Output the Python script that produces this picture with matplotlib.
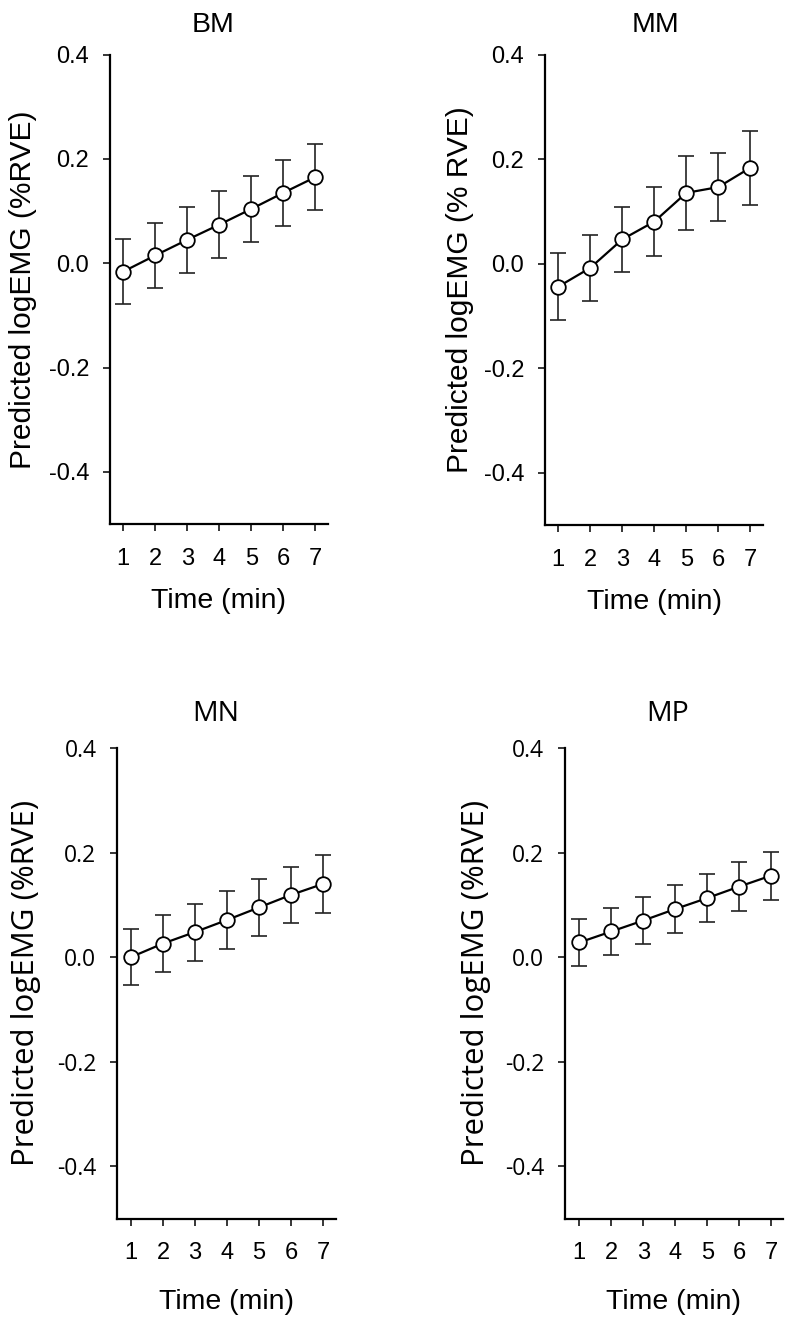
import matplotlib
matplotlib.use("Agg")
import matplotlib.pyplot as plt

time_min = [1, 2, 3, 4, 5, 6, 7]
yticks = [-0.4, -0.2, 0.0, 0.2, 0.4]
ytick_labels = ["-0.4", "-0.2", "0.0", "0.2", "0.4"]

bm_mean = [-0.016, 0.015, 0.045, 0.074, 0.104, 0.135, 0.165]
bm_err = [0.063, 0.063, 0.063, 0.064, 0.063, 0.063, 0.063]

mm_mean = [-0.044, -0.008, 0.0465, 0.0805, 0.1355, 0.1465, 0.1835]
mm_err = [0.064, 0.063, 0.0625, 0.0655, 0.0705, 0.0655, 0.0705]

mn_mean = [0.000, 0.026, 0.048, 0.071, 0.095, 0.119, 0.140]
mn_err = [0.054, 0.0545, 0.0545, 0.055, 0.0545, 0.054, 0.0555]

mp_mean = [0.028, 0.049, 0.070, 0.092, 0.113, 0.135, 0.156]
mp_err = [0.045, 0.045, 0.0445, 0.045, 0.0455, 0.046, 0.046]

titles = ["BM", "MM", "MN", "MP"]
ylabels = ["Predicted logEMG (%RVE)", "Predicted logEMG (% RVE)",
           "Predicted logEMG (%RVE)", "Predicted logEMG (%RVE)"]
xlabel = "Time (min)"

W, H = 786, 1319
fig = plt.figure(figsize=(W / 100, H / 100), dpi=100)

# layout in pixels: left, x=1 pixel, right, top(0.4), bottom(-0.5)
layout = [
    dict(left=110, x1=123.3, right=328, top=54.6, bottom=524,
         font="Liberation Sans", tfont="Liberation Sans", title_x=0.472,
         ylab_px=37, tick_font="Liberation Sans", ytsize=17, ylsize=21.5),
    dict(left=545, x1=558.3, right=763.3, top=54.6, bottom=525,
         font="Liberation Sans", tfont="Liberation Sans", title_x=0.505,
         ylab_px=474, tick_font="Liberation Sans", ytsize=17, ylsize=21.5),
    dict(left=117.3, x1=131, right=336, top=748, bottom=1218.5,
         font="Open Sans", tfont="Open Sans", title_x=0.448,
         ylab_px=41, tick_font="Open Sans", ytsize=16.5, ylsize=22.5),
    dict(left=565, x1=579.3, right=783, top=748, bottom=1218.5,
         font="Open Sans", tfont="Open Sans", title_x=0.472,
         ylab_px=491, tick_font="Open Sans", ytsize=16.5, ylsize=22.5),
]
means = [bm_mean, mm_mean, mn_mean, mp_mean]
errs = [bm_err, mm_err, mn_err, mp_err]
scale = 32.0

for i, L in enumerate(layout):
    axw = L["right"] - L["left"]
    axh = L["bottom"] - L["top"]
    ax = fig.add_axes([L["left"] / W, 1 - L["bottom"] / H, axw / W, axh / H])
    ax.set_xlim(1 - (L["x1"] - L["left"]) / scale, 1 + (L["right"] - L["x1"]) / scale)
    ax.set_ylim(-0.5, 0.4)
    ax.errorbar(time_min, means[i], yerr=errs[i], fmt="none", ecolor="#222222",
                elinewidth=1.2, capsize=5.5, capthick=1.2, zorder=2)
    ax.plot(time_min, means[i], "-o", color="black", lw=1.6, ms=10.5,
            mfc="white", mec="black", mew=1.3, zorder=3)
    for s in ["top", "right"]:
        ax.spines[s].set_visible(False)
    for s in ["left", "bottom"]:
        ax.spines[s].set_linewidth(1.6)
    ax.set_xticks(time_min)
    ax.set_xticklabels([str(t) for t in time_min], fontsize=17, family="Liberation Sans")
    ax.set_yticks(yticks)
    ax.set_yticklabels(ytick_labels, fontsize=L["ytsize"], family=L["tick_font"])
    ax.tick_params(axis="both", direction="out", length=5, width=1.1)
    ax.tick_params(axis="x", pad=12)
    ax.tick_params(axis="y", pad=10)
    ax.set_ylabel(ylabels[i], fontsize=L["ylsize"], family=L["font"])
    ax.yaxis.set_label_coords((L["ylab_px"] - L["left"]) / axw, 0.5)
    ax.set_xlabel(xlabel, fontsize=20.5, family="Liberation Sans")
    base_off = 84 if i < 2 else 90.5
    ax.xaxis.set_label_coords(0.5, -base_off / axh)
    ax.xaxis.label.set_verticalalignment("baseline")
    t_off = 22.6 if i < 2 else 27.3
    ax.text(L["title_x"], 1 + t_off / axh, titles[i], transform=ax.transAxes,
            ha="center", va="baseline", fontsize=20.5, family=L["tfont"])

fig.savefig("out.png", dpi=100)
